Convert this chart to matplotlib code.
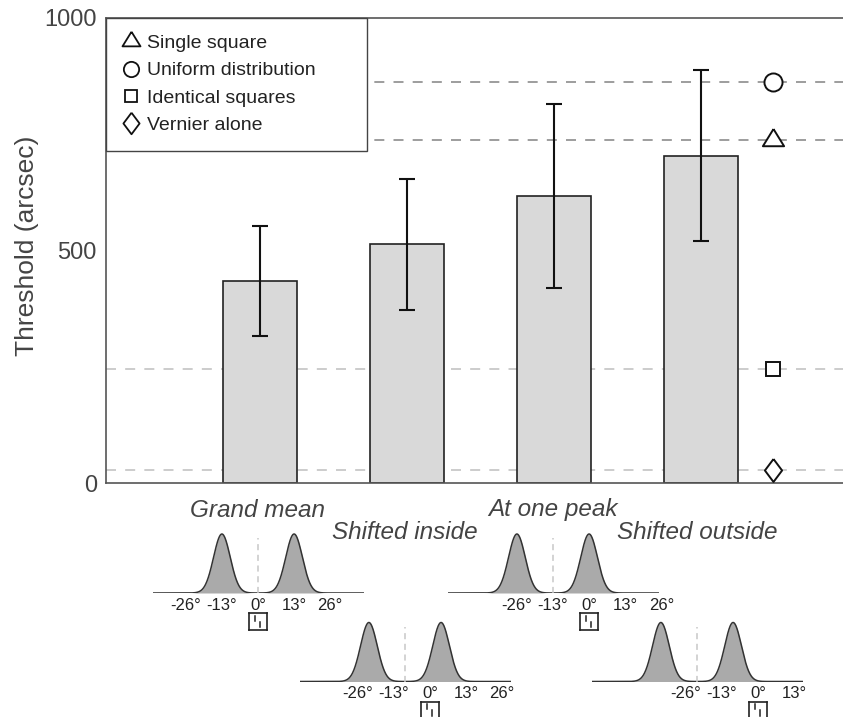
import matplotlib.pyplot as plt
import numpy as np
from matplotlib.lines import Line2D

plt.rcParams['font.family'] = ['Liberation Sans', 'DejaVu Sans']

# Dados do gráfico
condicoes = ['Grand mean', 'Shifted inside', 'At one peak', 'Shifted outside']
medias = [435, 513, 617, 704]
erros = [118, 141, 198, 184]

ref_nomes = ['Single square', 'Uniform distribution', 'Identical squares', 'Vernier alone']
ref_valores = [738, 863, 245, 27]

# deslocamento (graus) das marcas de eixo em cada miniatura
deslocamentos = [0, 9, 13, 22]
graus = [-26, -13, 0, 13, 26]
pico = 13
sigma = 3.0

W, H = 843, 717
fig = plt.figure(figsize=(W / 100, H / 100), dpi=100)


def eixo_px(x0, y0, x1, y1):
    # cria um eixo a partir de uma caixa em pixels (origem no topo)
    return fig.add_axes([x0 / W, 1 - y1 / H, (x1 - x0) / W, (y1 - y0) / H])


# marcadores personalizados
tri = [(0, 1.08), (-1, -0.54), (1, -0.54), (0, 1.08)]
losango = [(0, 1), (0.75, 0), (0, -1), (-0.75, 0), (0, 1)]
marcadores = [tri, 'o', 's', losango]
tamanhos = [16.5, 13, 9.5, 16.5]
tamanhos_leg = [14, 11, 8, 15.5]
cores_linha = ['#8c8c8c', '#8c8c8c', '#c4c4c4', '#c4c4c4']

ax = eixo_px(106, 18, 843, 483)
x = np.arange(len(condicoes))
ax.set_xlim(-1.048, 3.966)
ax.set_ylim(0, 1000)

# linhas tracejadas de referência (atrás das barras)
for v, c in zip(ref_valores, cores_linha):
    ax.axhline(v, color=c, lw=1.2, linestyle=(0, (6, 5.5)), zorder=0)

ax.bar(x, medias, width=0.5, color='#d9d9d9', edgecolor='#222222', linewidth=1.2, zorder=2)
ax.errorbar(x, medias, yerr=erros, fmt='none', ecolor='#111111', elinewidth=1.5,
            capsize=5.8, capthick=1.5, zorder=3)

x_ref = 3.49
for v, m, s in zip(ref_valores, marcadores, tamanhos):
    ax.plot([x_ref], [v], marker=m, markersize=s, markerfacecolor='white',
            markeredgecolor='#111111', markeredgewidth=1.4, linestyle='none', zorder=4)

ax.set_xticks([])
ax.set_yticks([0, 500, 1000])
ax.tick_params(axis='y', length=0, pad=6.5, labelsize=17, labelcolor='#444444')
for lado in ['left', 'bottom', 'top']:
    ax.spines[lado].set_color('#555555')
    ax.spines[lado].set_linewidth(1.2)
ax.spines['right'].set_visible(False)
ax.set_ylabel('Threshold (arcsec)', fontsize=19, color='#444444')
ax.yaxis.set_label_coords(-(106 - 39) / 737, 0.51)

# legenda
alcas = [Line2D([], [], marker=m, markersize=s, markerfacecolor='white',
                markeredgecolor='#111111', markeredgewidth=1.3, linestyle='none')
         for m, s in zip(marcadores, tamanhos_leg)]
leg = ax.legend(alcas, ref_nomes, loc='upper left', bbox_to_anchor=(0, 0, 261 / 737, 1),
                mode='expand', borderaxespad=0, fancybox=False, framealpha=1,
                edgecolor='#444444', fontsize=14, labelspacing=0.5, borderpad=0.85,
                handlelength=0.9, handletextpad=0.36, labelcolor='#222222')
leg.get_frame().set_linewidth(1.0)
leg.set_zorder(5)

# miniaturas com as duas gaussianas
centros = [258, 405, 553, 697]
bases = [593, 681.5, 593, 681.5]
titulos_y = [517, 539, 516, 539]
xs = np.linspace(-38, 38, 800)
for i in range(len(condicoes)):
    c, b, d = centros[i], bases[i], deslocamentos[i]
    fig.text(c / W, 1 - titulos_y[i] / H, condicoes[i], fontsize=17.5, style='italic',
             color='#444444', ha='center', va='baseline')

    mini = eixo_px(c - 105.5, b - 62, c + 105.5, b)
    curva = np.exp(-(xs - pico) ** 2 / (2 * sigma ** 2)) + np.exp(-(xs + pico) ** 2 / (2 * sigma ** 2))
    mini.fill_between(xs, 0, curva, color='#aaaaaa', lw=0)
    mini.plot(xs, curva, color='#333333', lw=1.1)
    mini.plot([0, 0], [0, 0.93], color='#c8c8c8', lw=1.1, linestyle=(0, (4, 3)))
    mini.set_xlim(-38, 38)
    mini.set_ylim(0, 62 / 59)
    mini.axis('off')
    for g in graus:
        pos = g + d
        if pos > 40:
            continue
        mini.text(pos, -12 / 62, f'{g}°', transform=mini.get_xaxis_transform(),
                  ha='center', va='center', fontsize=12, color='#222222', clip_on=False)

    # ícone do vernier na posição 0°
    px0 = c - 105.5 + (d + 38) / 76 * 211
    ic = eixo_px(px0 - 9, b + 20, px0 + 9, b + 37)
    ic.set_xlim(0, 1)
    ic.set_ylim(0, 1)
    ic.set_xticks([])
    ic.set_yticks([])
    for sp in ic.spines.values():
        sp.set_color('#222222')
        sp.set_linewidth(1.2)
    ic.plot([0.35, 0.35], [0.55, 0.85], color='#222222', lw=1.1)
    ic.plot([0.62, 0.62], [0.15, 0.48], color='#222222', lw=1.1)

fig.savefig('out.png', dpi=100)
